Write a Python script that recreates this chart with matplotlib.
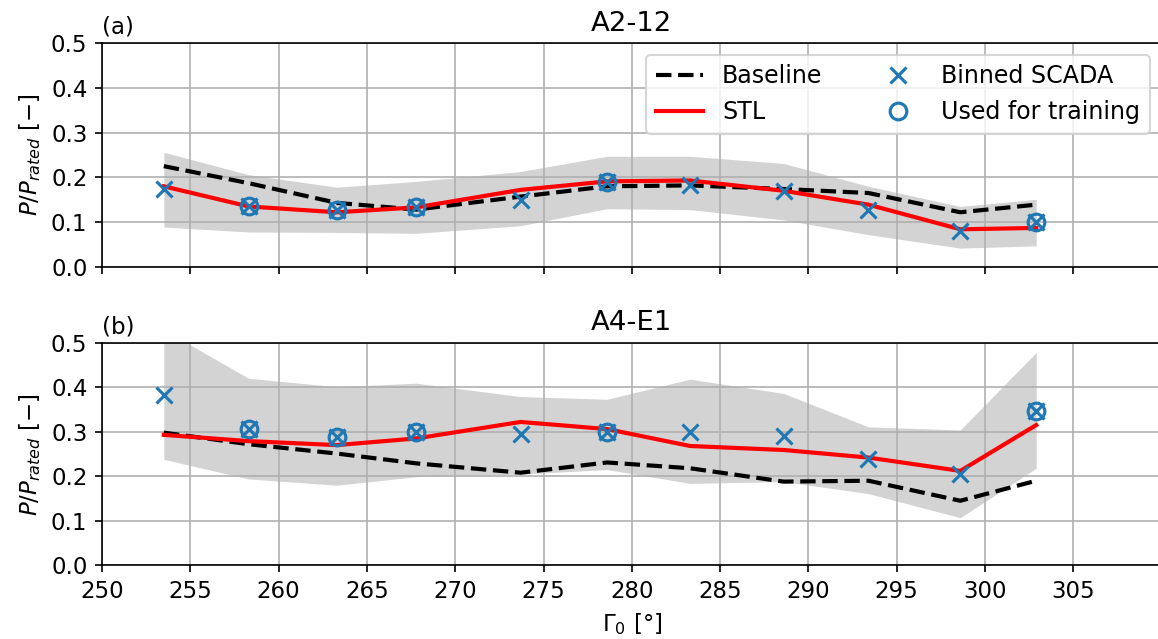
import numpy as np
import matplotlib
matplotlib.use('Agg')
import matplotlib.pyplot as plt

plt.rcParams['font.size'] = 11

# wind direction bins [deg]
gamma0 = [253.5, 258.3, 263.3, 267.8, 273.7, 278.6, 283.3, 288.6, 293.4, 298.6, 302.9]
# bins that were used for training
train_idx = [1, 2, 3, 5, 10]

# (a) A2-12
baseline_a = [0.225, 0.187, 0.143, 0.128, 0.157, 0.180, 0.182, 0.174, 0.165, 0.122, 0.139]
stl_a = [0.180, 0.135, 0.122, 0.133, 0.172, 0.191, 0.193, 0.170, 0.139, 0.084, 0.087]
scada_a = [0.174, 0.137, 0.128, 0.133, 0.150, 0.189, 0.184, 0.169, 0.128, 0.081, 0.101]
band_hi_a = [0.256, 0.206, 0.178, 0.191, 0.213, 0.247, 0.247, 0.231, 0.180, 0.135, 0.151]
band_lo_a = [0.089, 0.078, 0.077, 0.075, 0.092, 0.130, 0.128, 0.105, 0.072, 0.042, 0.047]

# (b) A4-E1
baseline_b = [0.298, 0.272, 0.251, 0.229, 0.208, 0.231, 0.218, 0.188, 0.190, 0.145, 0.190]
stl_b = [0.293, 0.279, 0.270, 0.285, 0.322, 0.306, 0.268, 0.259, 0.242, 0.212, 0.315]
scada_b = [0.382, 0.306, 0.289, 0.300, 0.295, 0.300, 0.300, 0.290, 0.238, 0.205, 0.347]
band_hi_b = [0.529, 0.420, 0.401, 0.409, 0.379, 0.373, 0.418, 0.386, 0.311, 0.304, 0.478]
band_lo_b = [0.238, 0.194, 0.180, 0.199, 0.205, 0.215, 0.184, 0.188, 0.161, 0.107, 0.218]

panels = [
    ('(a)', 'A2-12', baseline_a, stl_a, scada_a, band_hi_a, band_lo_a),
    ('(b)', 'A4-E1', baseline_b, stl_b, scada_b, band_hi_b, band_lo_b),
]

fig = plt.figure(figsize=(7.72, 4.26), dpi=150)
ax_top = fig.add_axes([0.0881, 0.5823, 0.915, 0.3504])
ax_bot = fig.add_axes([0.0881, 0.1153, 0.915, 0.3484], sharex=ax_top)

x = np.array(gamma0)
for ax, (tag, name, base, stl, scada, hi, lo) in zip([ax_top, ax_bot], panels):
    scada = np.array(scada)
    ax.fill_between(x, lo, hi, color='lightgrey', linewidth=0)
    ax.plot(x, base, 'k--', lw=2, label='Baseline')
    ax.plot(x, stl, color='red', lw=2, label='STL')
    ax.plot(x, scada, 'x', color='tab:blue', ms=8, mew=1.5, label='Binned SCADA')
    ax.plot(x[train_idx], scada[train_idx], 'o', color='tab:blue', mfc='none',
            ms=8, mew=1.5, label='Used for training')
    ax.set_ylim(0, 0.5)
    ax.set_yticks(np.arange(0, 0.51, 0.1))
    ax.set_ylabel(r'$P/P_{rated}$ [$-$]')
    ax.set_title(name, fontsize=13.2)
    ax.text(0.0, 1.02, tag, transform=ax.transAxes, ha='left', va='bottom')
    ax.grid(True)

ax_bot.set_xlim(250, 310)
ax_bot.set_xticks(np.arange(250, 306, 5))
ax_bot.set_xlabel(r'$\Gamma_0$ [°]')
plt.setp(ax_top.get_xticklabels(), visible=False)

ax_top.legend(loc='upper right', ncol=2, fontsize=11.4, columnspacing=2.2)

fig.savefig('out.png', dpi=150)
